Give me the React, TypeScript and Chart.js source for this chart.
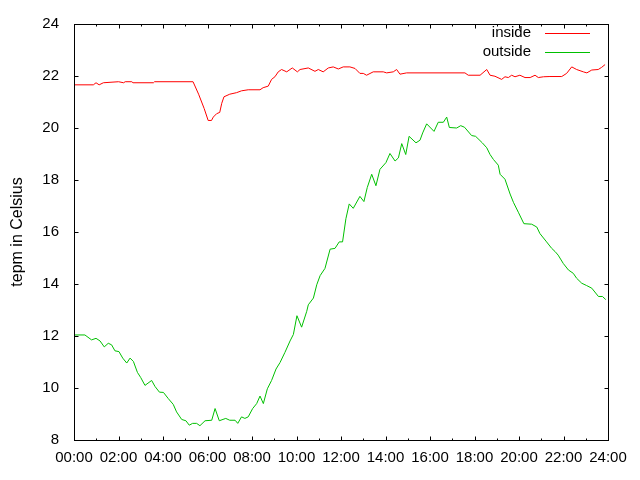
import React, { useEffect, useRef } from "react";
import { Chart, registerables } from "chart.js";

Chart.register(...registerables);

const FONT_FAMILY = "'Liberation Sans', Arial, sans-serif";

// Hours of day (x) and temperatures (y)
const insideHours = [
  0.0, 0.87, 0.99, 1.13, 1.32, 2.0, 2.23, 2.3, 2.6, 2.65, 3.57, 3.62, 5.35, 5.6, 5.85, 6.03, 6.18, 6.26,
  6.41, 6.55, 6.64, 6.74, 7.0, 7.31, 7.53, 7.83, 8.36, 8.5, 8.73, 8.88, 9.03, 9.18, 9.33, 9.56, 9.81,
  10.04, 10.16, 10.53, 10.83, 10.98, 11.2, 11.43, 11.65, 11.88, 12.1, 12.4, 12.63, 12.85, 13.0, 13.15,
  13.45, 13.9, 14.05, 14.35, 14.5, 14.65, 14.95, 17.57, 17.72, 18.25, 18.55, 18.7, 18.92, 19.22, 19.37,
  19.52, 19.67, 19.82, 20.04, 20.27, 20.5, 20.72, 20.87, 21.1, 21.39, 21.92, 22.14, 22.37, 22.59, 22.89,
  23.05, 23.27, 23.56, 23.71, 23.87,
];
const insideTemps = [
  21.66, 21.66, 21.74, 21.66, 21.74, 21.78, 21.74, 21.78, 21.78, 21.74, 21.74, 21.78, 21.78, 21.3, 20.75,
  20.29, 20.29, 20.42, 20.55, 20.6, 20.95, 21.2, 21.3, 21.36, 21.43, 21.47, 21.47, 21.55, 21.61, 21.87,
  21.97, 22.16, 22.25, 22.16, 22.31, 22.16, 22.25, 22.31, 22.18, 22.25, 22.16, 22.31, 22.35, 22.27, 22.35,
  22.35, 22.29, 22.1, 22.1, 22.03, 22.16, 22.16, 22.12, 22.16, 22.25, 22.07, 22.12, 22.12, 22.03, 22.03,
  22.25, 22.03, 21.99, 21.87, 21.97, 21.94, 22.03, 21.97, 22.03, 21.94, 21.94, 22.03, 21.94, 21.97, 21.98,
  21.98, 22.1, 22.35, 22.25, 22.16, 22.12, 22.23, 22.25, 22.33, 22.44,
];

const outsideHours = [
  0.0, 0.49, 0.79, 0.99, 1.17, 1.36, 1.54, 1.69, 1.84, 2.02, 2.19, 2.37, 2.52, 2.67, 2.85, 3.0, 3.19, 3.49,
  3.64, 3.84, 4.02, 4.24, 4.46, 4.61, 4.84, 5.03, 5.18, 5.33, 5.51, 5.66, 5.89, 6.19, 6.34, 6.53, 6.82,
  7.0, 7.24, 7.36, 7.53, 7.68, 7.83, 8.03, 8.21, 8.36, 8.51, 8.69, 8.88, 9.08, 9.26, 9.48, 9.71, 9.86,
  10.02, 10.23, 10.46, 10.53, 10.76, 10.91, 11.06, 11.28, 11.51, 11.73, 11.92, 12.07, 12.22, 12.37, 12.55,
  12.85, 13.03, 13.18, 13.38, 13.57, 13.75, 14.02, 14.2, 14.43, 14.58, 14.73, 14.91, 15.06, 15.37, 15.55,
  15.67, 15.85, 16.18, 16.37, 16.6, 16.75, 16.87, 17.2, 17.38, 17.55, 17.87, 18.05, 18.35, 18.55, 18.7,
  18.85, 19.07, 19.15, 19.37, 19.6, 19.75, 19.97, 20.22, 20.57, 20.8, 20.94, 21.24, 21.47, 21.62, 21.76,
  21.99, 22.22, 22.44, 22.59, 22.82, 23.04, 23.27, 23.57, 23.75, 23.9,
];
const outsideTemps = [
  12.04, 12.04, 11.85, 11.91, 11.81, 11.58, 11.72, 11.66, 11.43, 11.4, 11.15, 10.96, 11.15, 11.02, 10.6,
  10.4, 10.1, 10.29, 10.06, 9.84, 9.83, 9.59, 9.37, 9.08, 8.79, 8.74, 8.57, 8.64, 8.64, 8.55, 8.74, 8.76,
  9.21, 8.74, 8.83, 8.76, 8.76, 8.64, 8.89, 8.83, 8.89, 9.21, 9.4, 9.69, 9.4, 9.97, 10.29, 10.73, 10.98,
  11.37, 11.81, 12.06, 12.78, 12.34, 12.95, 13.2, 13.46, 13.97, 14.32, 14.6, 15.34, 15.37, 15.62, 15.62,
  16.51, 17.08, 16.91, 17.37, 17.17, 17.71, 18.22, 17.78, 18.41, 18.67, 19.02, 18.73, 18.85, 19.4, 18.98,
  19.68, 19.43, 19.53, 19.81, 20.16, 19.87, 20.22, 20.22, 20.42, 20.02, 20.0, 20.09, 20.03, 19.71, 19.68,
  19.43, 19.24, 18.98, 18.79, 18.57, 18.22, 18.03, 17.46, 17.14, 16.76, 16.32, 16.3, 16.19, 15.94, 15.62,
  15.37, 15.25, 15.11, 14.79, 14.54, 14.41, 14.22, 14.03, 13.94, 13.84, 13.52, 13.52, 13.4,
];

const seriesNames = ["inside", "outside"];
const seriesColors = ["#ff0000", "#00c000"];
const yAxisTitle = "tepm in Celsius";
const xMin = 0;
const xMax = 24;
const yMin = 8;
const yMax = 24;

const fmtHour = (v: number) => `${String(v).padStart(2, "0")}:00`;

const framePlugin = {
  id: "gnuplotFrame",
  afterDatasetsDraw(chart: any) {
    const { ctx, chartArea: a, scales } = chart;
    const xs = scales.x;
    const ys = scales.y;
    ctx.save();
    ctx.strokeStyle = "#000";
    ctx.lineWidth = 1;
    const L = Math.round(a.left) + 0.5;
    const R = Math.round(a.right) + 0.5;
    const T = Math.round(a.top) + 0.5;
    const B = Math.round(a.bottom) + 0.5;
    ctx.beginPath();
    // x ticks (major every 2h, minor every 1h), bottom and top, inward
    for (let v = xMin; v <= xMax; v += 1) {
      const px = Math.round(xs.getPixelForValue(v)) + 0.5;
      const len = v % 2 === 0 ? 4 : 2;
      ctx.moveTo(px, B);
      ctx.lineTo(px, B - len);
      ctx.moveTo(px, T);
      ctx.lineTo(px, T + len);
    }
    // y ticks, left and right, inward
    for (let v = yMin; v <= yMax; v += 2) {
      const py = Math.round(ys.getPixelForValue(v)) + 0.5;
      ctx.moveTo(L, py);
      ctx.lineTo(L + 4, py);
      ctx.moveTo(R, py);
      ctx.lineTo(R - 4, py);
    }
    ctx.stroke();
    ctx.strokeRect(L, T, R - L, B - T);

    // legend (top right, inside plot)
    ctx.font = `15px ${FONT_FAMILY}`;
    ctx.textAlign = "right";
    ctx.textBaseline = "middle";
    seriesNames.forEach((name, i) => {
      const y = 33 + i * 19;
      ctx.fillStyle = "#000";
      ctx.fillText(name, 531, y);
      ctx.strokeStyle = seriesColors[i];
      ctx.beginPath();
      ctx.moveTo(545, y + 0.5);
      ctx.lineTo(590, y + 0.5);
      ctx.stroke();
    });
    ctx.restore();
  },
};

function ChartView() {
  const ref = useRef<HTMLCanvasElement | null>(null);
  useEffect(() => {
    if (!ref.current) return;
    const mk = (hours: number[], temps: number[]) => hours.map((h, i) => ({ x: h, y: temps[i] }));
    const chart = new Chart(ref.current, {
      type: "line",
      data: {
        datasets: [
          {
            label: seriesNames[0],
            data: mk(insideHours, insideTemps),
            borderColor: seriesColors[0],
            borderWidth: 1,
            pointRadius: 0,
            tension: 0,
            fill: false,
          },
          {
            label: seriesNames[1],
            data: mk(outsideHours, outsideTemps),
            borderColor: seriesColors[1],
            borderWidth: 1,
            pointRadius: 0,
            tension: 0,
            fill: false,
          },
        ],
      },
      options: {
        animation: false,
        responsive: false,
        devicePixelRatio: 1,
        layout: { padding: { top: 20, right: 32, left: 0, bottom: 0 } },
        plugins: { legend: { display: false }, tooltip: { enabled: false } },
        scales: {
          x: {
            type: "linear",
            min: xMin,
            max: xMax,
            grid: { display: false, drawTicks: false },
            border: { display: false },
            ticks: {
              stepSize: 2,
              autoSkip: false,
              maxRotation: 0,
              padding: 9,
              color: "#000",
              font: { family: FONT_FAMILY, size: 15 },
              callback: (v: any) => fmtHour(Number(v)),
            },
            afterFit: (s: any) => {
              s.height = 40;
            },
          },
          y: {
            type: "linear",
            min: yMin,
            max: yMax,
            grid: { display: false, drawTicks: false },
            border: { display: false },
            ticks: {
              stepSize: 2,
              padding: 15,
              color: "#000",
              font: { family: FONT_FAMILY, size: 15 },
            },
            title: {
              display: true,
              text: yAxisTitle,
              color: "#000",
              font: { family: FONT_FAMILY, size: 16 },
              padding: { top: 8, bottom: 0 },
            },
            afterFit: (s: any) => {
              s.width = 74;
            },
          },
        },
      },
      plugins: [framePlugin],
    });
    return () => chart.destroy();
  }, []);
  return (
    <div style={{ position: "absolute", left: 0, top: 0, width: 640, height: 480, background: "#fff" }}>
      <canvas ref={ref} width={640} height={480} />
    </div>
  );
}

export default function App() {
  return <ChartView />;
}
